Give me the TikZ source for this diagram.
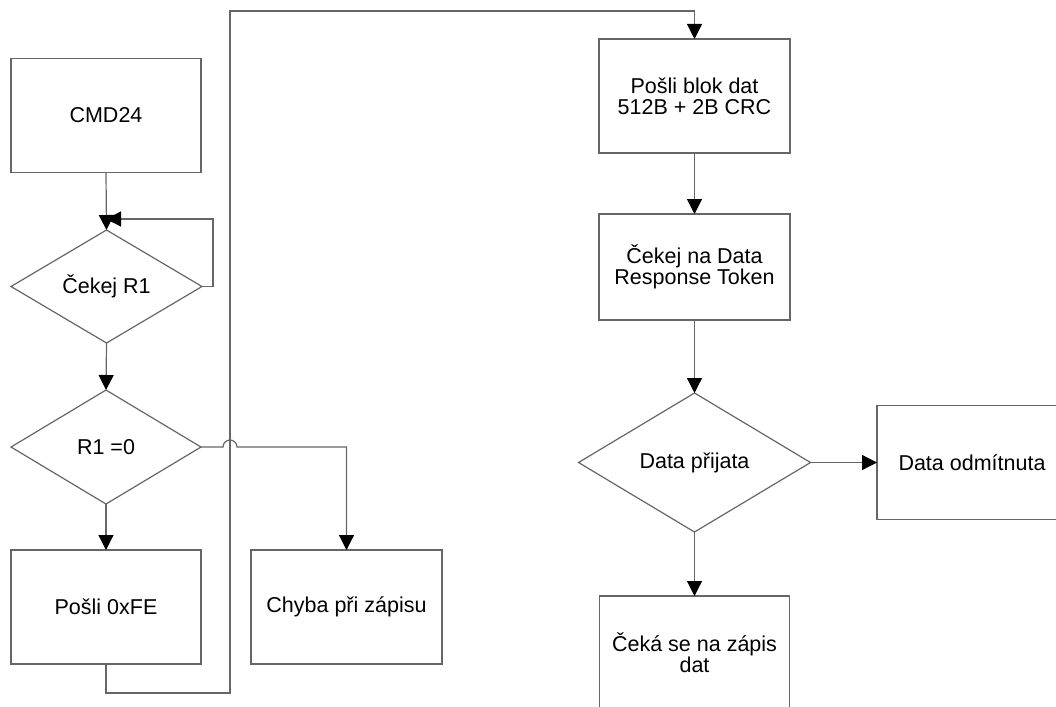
\documentclass[tikz,border=0pt]{standalone}
\usepackage{fontspec}
\setmainfont{Liberation Sans}
\usetikzlibrary{shapes.geometric,arrows.meta}

\tikzset{
  box/.style={draw=black!60, line width=1.2pt, rectangle, minimum width=191pt,
    minimum height=114pt, inner sep=0pt, outer sep=0pt, align=center},
  decision/.style={draw=black!60, line width=1.2pt, diamond, aspect=2,
    inner sep=0pt, outer sep=0pt, align=center},
  flow/.style={draw=black!60, line width=1.2pt,
    -{Triangle[length=15pt,width=15pt,black]}},
}

\begin{document}
\begin{tikzpicture}[x=1pt,y=-1pt,font=\fontsize{21.5}{21}\selectfont]
\useasboundingbox (0,0) rectangle (1056,706);

% left column
\node[box, minimum width=190pt] (cmd) at (106,115.5) {CMD24};
\node[decision, minimum width=191pt, minimum height=113pt] (wait) at (106.5,286.5) {Čekej R1};
\node[decision, minimum width=190pt, minimum height=114pt] (check) at (106,447) {R1 =0};
\node[box, minimum width=190pt] (fe) at (106,607) {Pošli 0xFE};
\node[box] (err) at (346.5,607) {Chyba při zápisu};

% right column
\node[box] (block) at (694.5,96) {Pošli blok dat\\512B + 2B CRC};
\node[box, minimum height=106pt] (token) at (694.5,267) {Čekej na Data\\Response Token};
\node[decision, minimum width=232pt, minimum height=139pt] (acc) at (694.5,462.5) {Data přijata};
\node[box, minimum width=190pt] (rej) at (972,462.5) {Data odmítnuta};
\node[box, minimum width=190pt] (wr) at (694.5,653) {Čeká se na zápis\\dat};

\coordinate (j) at (106,219);

\draw[flow] (cmd.south) -- (wait.north);
\draw[flow] (wait.east) -- ++(11,0) |- (j);
\draw[flow] (wait.south) -- (check.north);
\draw[flow] (check.south) -- (fe.north);
\draw[flow] (check.east) -- (223,447) arc[start angle=180, end angle=360, radius=7]
  -| (err.north);
\draw[flow] (fe.south) -- ++(0,29) -| (230,11) -| (block.north);

\draw[flow] (block.south) -- (token.north);
\draw[flow] (token.south) -- (acc.north);
\draw[flow] (acc.east) -- (rej.west);
\draw[flow] (acc.south) -- (wr.north);

\end{tikzpicture}
\end{document}
